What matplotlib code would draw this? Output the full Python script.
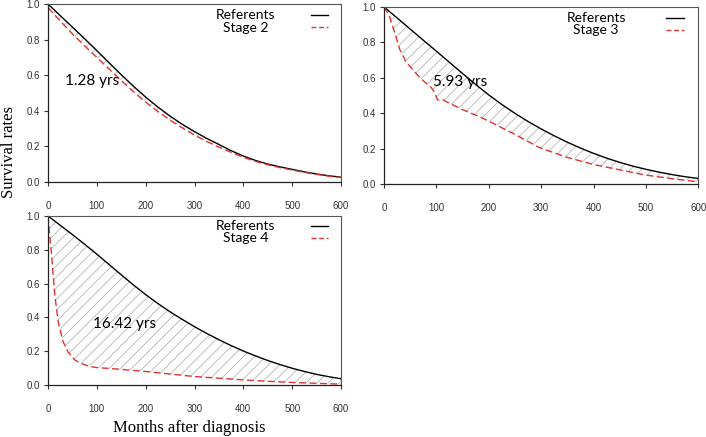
import numpy as np
import matplotlib
matplotlib.use("Agg")
import matplotlib.pyplot as plt

# months sampled every 25 for referent curves
months25 = list(range(0, 601, 25))

ref_stage2 = [1.0, 0.935, 0.87, 0.805, 0.738, 0.67, 0.603, 0.538, 0.477, 0.421, 0.37, 0.324,
              0.283, 0.245, 0.211, 0.176, 0.146, 0.121, 0.101, 0.085, 0.071, 0.057, 0.045, 0.035, 0.027]
stage2 = [0.98, 0.905, 0.832, 0.765, 0.70, 0.635, 0.57, 0.507, 0.449, 0.396, 0.348, 0.304,
          0.264, 0.228, 0.196, 0.167, 0.139, 0.116, 0.097, 0.081, 0.067, 0.054, 0.043, 0.033, 0.025]

ref_stage3 = [1.0, 0.938, 0.875, 0.812, 0.75, 0.687, 0.624, 0.562, 0.503, 0.449, 0.399, 0.353,
              0.311, 0.272, 0.236, 0.203, 0.173, 0.146, 0.122, 0.101, 0.083, 0.067, 0.053, 0.041, 0.031]
stage3_months = [0, 10, 22, 30, 42, 55, 67, 80, 90, 96, 102, 112, 150, 182, 200, 250, 297,
                 350, 400, 450, 500, 550, 600]
stage3 = [1.0, 0.95, 0.84, 0.76, 0.69, 0.645, 0.605, 0.57, 0.545, 0.52, 0.475, 0.475, 0.42,
          0.38, 0.355, 0.28, 0.205, 0.15, 0.11, 0.08, 0.05, 0.03, 0.012]

ref_stage4 = [1.0, 0.945, 0.89, 0.833, 0.774, 0.713, 0.652, 0.592, 0.535, 0.482, 0.433, 0.388,
              0.345, 0.305, 0.268, 0.233, 0.201, 0.172, 0.145, 0.121, 0.099, 0.08, 0.063, 0.049, 0.037]
stage4_months = [0, 3, 7, 14, 21, 31, 41, 55, 70, 85, 100, 130, 200, 250, 300, 350, 400,
                 450, 500, 550, 600]
stage4 = [1.0, 0.9, 0.78, 0.53, 0.37, 0.255, 0.195, 0.148, 0.125, 0.11, 0.103, 0.097, 0.08,
          0.065, 0.05, 0.04, 0.03, 0.022, 0.015, 0.01, 0.005]

panels = [
    ("Stage 2", months25, ref_stage2, months25, stage2, "1.28 yrs", (35, 0.57)),
    ("Stage 3", months25, ref_stage3, stage3_months, stage3, "5.93 yrs", (93, 0.575)),
    ("Stage 4", months25, ref_stage4, stage4_months, stage4, "16.42 yrs", (92, 0.36)),
]

positions = [
    [0.068, 0.5835, 0.415, 0.4073],
    [0.544, 0.579, 0.445, 0.405],
    [0.068, 0.119, 0.415, 0.3867],
]

red = "#e2322f"

fig = plt.figure(figsize=(7.06, 4.37), dpi=100)
plt.rcParams['hatch.linewidth'] = 0.5

for (stage, rx, ry, sx, sy, label, lpos), pos in zip(panels, positions):
    ax = fig.add_axes(pos)
    poly_x = list(rx) + list(sx)[::-1]
    poly_y = list(ry) + list(sy)[::-1]
    ax.fill(poly_x, poly_y, facecolor="none", edgecolor="#a8a8a8", hatch="///", linewidth=0)
    ax.plot(rx, ry, color="black", lw=1.0)
    ax.plot(sx, sy, color=red, lw=1.0, ls=(0, (5, 2.5)))
    ax.text(lpos[0], lpos[1], label, fontsize=11, family="Lato", va="center", ha="left")

    # legend drawn by hand: centred labels, samples on the right
    ax.text(0.675, 0.94, "Referents", transform=ax.transAxes, fontsize=10, family="Lato",
            ha="center", va="center")
    ax.text(0.675, 0.868, stage, transform=ax.transAxes, fontsize=10, family="Lato",
            ha="center", va="center")
    ax.plot([0.898, 0.954], [0.94, 0.94], transform=ax.transAxes, color="black", lw=1.0)
    ax.plot([0.898, 0.954], [0.872, 0.872], transform=ax.transAxes, color=red, lw=1.0,
            ls=(0, (3.5, 2)))

    ax.set_xlim(0, 600)
    ax.set_ylim(0, 1.0)
    ax.set_xticks(range(0, 601, 100))
    ax.set_yticks(np.arange(0, 1.01, 0.2))
    ax.set_yticklabels([f"{v:.1f}" for v in np.arange(0, 1.01, 0.2)])
    ax.tick_params(axis="both", labelsize=7, length=3, width=0.8, colors="#333333",
                   labelcolor="#333333", direction="out")
    ax.tick_params(axis="x", pad=11)
    ax.tick_params(axis="y", pad=3)
    for side in ["left", "bottom"]:
        ax.spines[side].set_color("#222222")
        ax.spines[side].set_linewidth(0.9)
    for side in ["top", "right"]:
        ax.spines[side].set_color("#555555")
        ax.spines[side].set_linewidth(0.8)
    for t in ax.get_xticklabels() + ax.get_yticklabels():
        t.set_family("Liberation Sans")

fig.text(0.013, 0.652, "Survival rates", rotation=90, fontsize=12, family="Liberation Serif",
         ha="center", va="center")
fig.text(0.268, 0.021, "Months after diagnosis", fontsize=12, family="Liberation Serif",
         ha="center", va="center")

fig.savefig("out.png", dpi=100)
